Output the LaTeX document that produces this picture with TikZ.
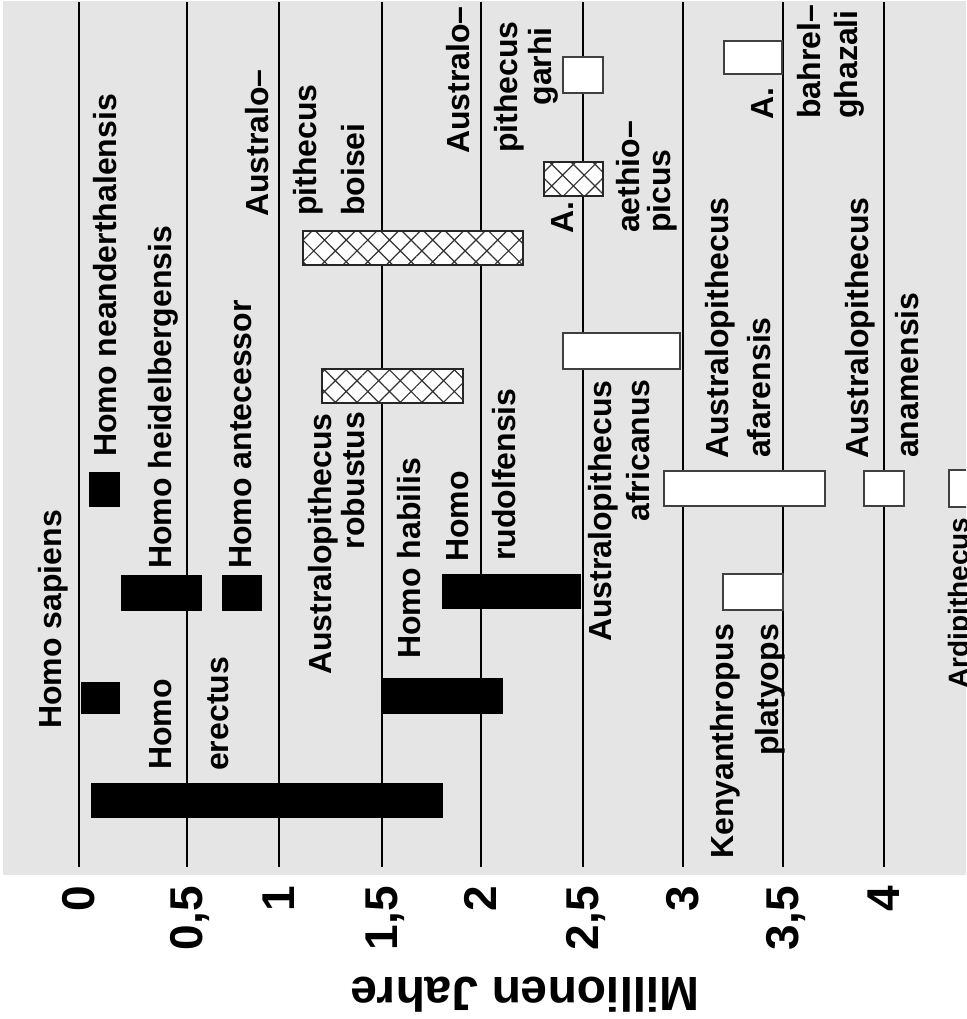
\documentclass[tikz,border=0pt]{standalone}
\usepackage{fontspec}
\setmainfont{Liberation Sans}
\usetikzlibrary{patterns.meta}

\definecolor{bggray}{gray}{0.9}
\newcommand{\labfont}{\fontsize{32}{38}\selectfont\bfseries}
\newcommand{\ardifont}{\fontsize{28}{34}\selectfont\bfseries}
\newcommand{\tickfont}{\fontsize{46}{55}\selectfont\bfseries}
\newcommand{\titlefont}{\fontsize{48}{58}\selectfont\bfseries}

\tikzset{
	lab/.style={rotate=90, anchor=base west, inner sep=0pt, font=\labfont},
	labr/.style={lab, anchor=base east},
	blackbar/.style={fill=black},
	whitebar/.style={fill=white, draw=black!75, line width=1.5pt},
	hatchbar/.style={preaction={fill=white}, pattern={Hatch[angle=45, distance=15.3pt, line width=1.2pt]},
		pattern color=black!80, draw=black!85, line width=1.5pt},
}

\begin{document}
\begin{tikzpicture}[x=1pt, y=-1pt]
	\useasboundingbox (0,0) rectangle (966,1019);
	\clip (0,0) rectangle (966,1019);

	% background and time axis
	\fill[bggray] (3,1) rectangle (966,875);
	\foreach \xx/\ticktext in {79/0, 187/{0,5}, 279/1, 382/{1,5}, 481/2, 583/{2,5}, 683/3, 783/{3,5}, 884/4}{
		\draw[line width=2.5pt] (\xx,2) -- (\xx,867);
		\node[rotate=90, anchor=base east, inner sep=0pt, font=\tickfont] (tick\xx) at (\xx+15,886) {\ticktext};
	}
	\node[rotate=180, anchor=base, inner sep=0pt, font=\titlefont] (axis) at (525,977) {Millionen Jahre};

	% black bars (Homo)
	\fill[blackbar] (81,682)  rectangle (120,714);
	\fill[blackbar] (89,472)  rectangle (120,507);
	\fill[blackbar] (121,575) rectangle (202,611);
	\fill[blackbar] (222,575) rectangle (262,611);
	\fill[blackbar] (91,783)  rectangle (443,818);
	\fill[blackbar] (382,678) rectangle (503,714);
	\fill[blackbar] (442,574) rectangle (581,609);

	% hatched bars (robust forms)
	\path[hatchbar] (322,369) rectangle (463,403);
	\path[hatchbar] (303,231) rectangle (523,265);
	\path[hatchbar] (544,162) rectangle (603,196);

	% white bars
	\path[whitebar] (563,57)  rectangle (603,93);
	\path[whitebar] (563,333) rectangle (680,369);
	\path[whitebar] (664,471) rectangle (825,506);
	\path[whitebar] (864,471) rectangle (904,506);
	\path[whitebar] (723,574) rectangle (783,610);
	\path[whitebar] (724,41)  rectangle (782,74);
	\path[whitebar] (949,470) rectangle (1000,507);

	% labels
	\node[lab]  (sapiens)   at (61,729)  {Homo sapiens};
	\node[lab]  (neander)   at (116,457) {Homo neanderthalensis};
	\node[lab]  (heidel)    at (171,569) {Homo heidelbergensis};
	\node[lab]  (antec)     at (251,569) {Homo antecessor};
	\node[lab]  (erectA)    at (171,770) {Homo};
	\node[lab]  (erectB)    at (228,771) {erectus};
	\node[lab]  (boiseiA)   at (268,217) {Australo--};
	\node[lab]  (boiseiB)   at (316,216) {pithecus};
	\node[lab]  (boiseiC)   at (364,216) {boisei};
	\node[lab]  (robustA)   at (331,675) {Australopithecus};
	\node[labr] (robustB)   at (364,412) {robustus};
	\node[lab]  (habilis)   at (420,659) {Homo habilis};
	\node[lab]  (rudolfA)   at (468,562) {Homo};
	\node[lab]  (rudolfB)   at (515,561) {rudolfensis};
	\node[lab]  (africA)    at (611,642) {Australopithecus};
	\node[labr] (africB)    at (649,379) {africanus};
	\node[lab]  (garhiA)    at (469,154) {Australo--};
	\node[lab]  (garhiB)    at (517,153) {pithecus};
	\node[labr] (garhiC)    at (551,27)  {garhi};
	\node[lab]  (aethA)     at (573,234) {A.};
	\node[lab]  (aethB)     at (639,233) {aethio--};
	\node[lab]  (aethC)     at (670,233) {picus};
	\node[lab]  (afarA)     at (728,459) {Australopithecus};
	\node[lab]  (afarB)     at (770,458) {afarensis};
	\node[lab]  (kenyaA)    at (733,859) {Kenyanthropus};
	\node[labr] (kenyaB)    at (778,624) {platyops};
	\node[lab]  (bahrelA)   at (773,120) {A.};
	\node[lab]  (bahrelB)   at (820,119) {bahrel--};
	\node[lab]  (bahrelC)   at (857,119) {ghazali};
	\node[lab]  (anamA)     at (868,459) {Australopithecus};
	\node[lab]  (anamB)     at (918,458) {anamensis};
	\node[lab, font=\ardifont] (ardi) at (968,689) {Ardipithecus};
\end{tikzpicture}
\end{document}
